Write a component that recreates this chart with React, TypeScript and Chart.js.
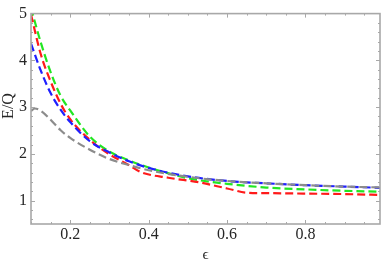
import React, { useEffect, useRef } from "react";
import { Chart, registerables } from "chart.js";

Chart.register(...registerables);

// ---- data ----
const redEps = [0.1, 0.125, 0.15, 0.175, 0.2, 0.25, 0.3, 0.35, 0.38, 0.45, 0.53, 0.6, 0.65, 0.7, 0.8, 0.9, 1.0];
const redEQ = [4.98, 4.13, 3.55, 3.08, 2.74, 2.3, 1.99, 1.76, 1.61, 1.49, 1.39, 1.26, 1.17, 1.16, 1.15, 1.14, 1.12];

const greenEps = [0.1, 0.125, 0.15, 0.175, 0.2, 0.25, 0.3, 0.35, 0.4, 0.5, 0.6, 0.7, 0.8, 0.9, 1.0];
const greenEQ = [5.12, 4.38, 3.75, 3.25, 2.93, 2.37, 2.05, 1.86, 1.71, 1.48, 1.36, 1.28, 1.24, 1.21, 1.19];

const blueEps = [0.1, 0.125, 0.15, 0.175, 0.2, 0.25, 0.3, 0.35, 0.4, 0.5, 0.6, 0.7, 0.8, 0.9, 1.0];
const blueEQ = [4.36, 3.78, 3.3, 2.95, 2.68, 2.27, 2.03, 1.84, 1.7, 1.52, 1.42, 1.37, 1.33, 1.3, 1.27];

const grayEps = [0.1, 0.11, 0.125, 0.15, 0.175, 0.2, 0.25, 0.3, 0.35, 0.4, 0.5, 0.6, 0.7, 0.8, 0.9, 1.0];
const grayEQ = [2.92, 2.97, 2.92, 2.73, 2.51, 2.34, 2.09, 1.89, 1.76, 1.65, 1.51, 1.42, 1.37, 1.33, 1.3, 1.28];

const xTickValues = [0.2, 0.4, 0.6, 0.8];
const yTickValues = [1, 2, 3, 4, 5];
const xMinorTicks = [0.1, 0.15, 0.2, 0.25, 0.3, 0.35, 0.4, 0.45, 0.5, 0.55, 0.6, 0.65, 0.7, 0.75, 0.8, 0.85, 0.9, 0.95];
const yMinorTicks = [0.6, 0.8, 1, 1.2, 1.4, 1.6, 1.8, 2, 2.2, 2.4, 2.6, 2.8, 3, 3.2, 3.4, 3.6, 3.8, 4, 4.2, 4.4, 4.6, 4.8];
const xTitle = "ϵ";
const yTitle = "E/Q";

const FONT = "'Liberation Serif', 'Times New Roman', serif";
const FRAME = "#a8a8a8";
const TEXT = "#262626";

const toPoints = (xs: number[], ys: number[]) => xs.map((x, i) => ({ x, y: ys[i] }));

const framePlugin = {
  id: "frame",
  afterDraw(chart: any) {
    const { ctx, chartArea } = chart;
    const xs = chart.scales.x;
    const ys = chart.scales.y;
    const { left, right, top, bottom } = chartArea;
    ctx.save();
    ctx.strokeStyle = FRAME;
    ctx.lineWidth = 1;
    // ticks (inside)
    ctx.beginPath();
    xMinorTicks.forEach((v) => {
      const px = Math.round(xs.getPixelForValue(v)) + 0.5;
      const major = xTickValues.some((t) => Math.abs(t - v) < 1e-9);
      const len = major ? 4 : 2;
      ctx.moveTo(px, bottom);
      ctx.lineTo(px, bottom - len);
      ctx.moveTo(px, top);
      ctx.lineTo(px, top + len);
    });
    yMinorTicks.forEach((v) => {
      const py = Math.round(ys.getPixelForValue(v)) + 0.5;
      const major = yTickValues.some((t) => Math.abs(t - v) < 1e-9);
      const len = major ? 4 : 2;
      ctx.moveTo(left, py);
      ctx.lineTo(left + len, py);
      ctx.moveTo(right, py);
      ctx.lineTo(right - len, py);
    });
    ctx.stroke();
    // frame
    ctx.lineWidth = 1.6;
    ctx.strokeRect(left, top, right - left, bottom - top);
    // y title
    ctx.fillStyle = TEXT;
    ctx.font = `16px ${FONT}`;
    ctx.textAlign = "center";
    ctx.textBaseline = "middle";
    ctx.translate(9, 106);
    ctx.rotate(-Math.PI / 2);
    ctx.fillText(yTitle, 0, 0);
    ctx.restore();
  },
};

export default function App() {
  const ref = useRef<HTMLCanvasElement | null>(null);

  useEffect(() => {
    document.body.style.margin = "0";
    const canvas = ref.current;
    if (!canvas) return;
    const mk = (label: string, xs: number[], ys: number[], color: string) => ({
      label,
      data: toPoints(xs, ys),
      borderColor: color,
      backgroundColor: color,
      borderWidth: 2.2,
      borderDash: [8, 4],
      pointRadius: 0,
      fill: false,
      cubicInterpolationMode: "monotone" as const,
    });
    const chart = new Chart(canvas, {
      type: "line",
      data: {
        datasets: [
          mk("gray", grayEps, grayEQ, "#8c8c8c"),
          mk("blue", blueEps, blueEQ, "#1f1fff"),
          mk("red", redEps, redEQ, "#ff1a1a"),
          mk("green", greenEps, greenEQ, "#22e622"),
        ],
      },
      options: {
        animation: false,
        responsive: false,
        devicePixelRatio: 1,
        layout: { padding: { top: 7, right: 2, left: 0, bottom: 0 } },
        plugins: { legend: { display: false }, tooltip: { enabled: false } },
        scales: {
          x: {
            type: "linear",
            min: 0.1,
            max: 0.99,
            grid: { display: false, drawTicks: false },
            border: { display: false },
            afterBuildTicks: (s: any) => {
              s.ticks = xTickValues.map((v) => ({ value: v }));
            },
            afterFit: (s: any) => {
              s.height = 40;
            },
            ticks: {
              padding: 1,
              color: TEXT,
              font: { family: FONT, size: 16 },
              callback: (v: any) => String(v),
            },
            title: {
              display: true,
              text: xTitle,
              color: TEXT,
              font: { family: FONT, size: 15 },
              padding: { top: 0, bottom: 0 },
            },
          },
          y: {
            type: "linear",
            min: 0.5,
            max: 5,
            grid: { display: false, drawTicks: false },
            border: { display: false },
            afterBuildTicks: (s: any) => {
              s.ticks = yTickValues.map((v) => ({ value: v }));
            },
            afterFit: (s: any) => {
              s.width = 31;
            },
            ticks: {
              padding: 4,
              color: TEXT,
              font: { family: FONT, size: 16 },
              callback: (v: any) => String(v),
            },
          },
        },
      },
      plugins: [framePlugin],
    });
    return () => chart.destroy();
  }, []);

  return (
    <div style={{ width: 382, height: 264 }}>
      <canvas ref={ref} width={382} height={264} style={{ display: "block" }} />
    </div>
  );
}
